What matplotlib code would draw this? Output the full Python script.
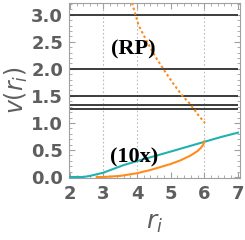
import matplotlib
matplotlib.use("Agg")
import matplotlib.pyplot as plt
from matplotlib.ticker import MultipleLocator

# data
levels = [3.0, 2.0, 1.5, 4/3, 1.25]
r_rp = [3.85, 4.05, 4.30, 4.55, 4.78, 5.05, 5.35, 5.55, 5.70, 5.85, 6.02]
v_rp = [3.22, 2.80, 2.50, 2.22, 2.00, 1.75, 1.50, 1.37, 1.25, 1.12, 1.00]
r_cy = [2.0, 2.4, 2.6, 2.8, 3.0, 3.3, 3.6, 4.2, 4.6, 5.0, 5.5, 6.0, 6.5, 7.0]
v_cy = [0.0, 0.0, 0.02, 0.05, 0.08, 0.15, 0.22, 0.33, 0.40, 0.47, 0.56, 0.65, 0.74, 0.82]
r_or = [2.8, 3.0, 3.5, 4.0, 4.4, 5.0, 5.3, 5.6, 5.8, 5.9, 5.97, 6.0]
v_or = [0.0, 0.0, 0.02, 0.07, 0.13, 0.24, 0.31, 0.40, 0.48, 0.54, 0.60, 0.66]
grid_x = [3, 4, 6]

fig = plt.figure(figsize=(2.45, 2.40), dpi=100)
ax = fig.add_axes([0.280, 0.258, 0.700, 0.730])

gray = "#5e5e5e"
for gx in grid_x:
    ax.axvline(gx, color="#bbbbbb", lw=0.8, ls=(0, (1.5, 2)), zorder=0)

ax.hlines(levels, 2, 7, colors="#3c3c3c", lw=1.4, zorder=2)
ax.plot(r_rp, v_rp, color="#ff8c1a", lw=1.5, ls=(0, (1.2, 1.2)), zorder=3)
ax.plot(r_cy, v_cy, color="#20b2b0", lw=1.5, zorder=3)
ax.plot(r_or, v_or, color="#ff8c1a", lw=1.5, zorder=3)

ax.text(3.9, 2.35, "(RP)", family="Liberation Serif", weight="bold",
        fontsize=16, ha="center", va="center", color="black")
ax.text(3.9, 0.37, "(10x)", family="Liberation Serif", weight="bold",
        fontsize=16, ha="center", va="center", color="black")

ax.set_xlim(1.965, 7.065)
ax.set_ylim(-0.02, 3.22)
ax.xaxis.set_major_locator(MultipleLocator(1))
ax.xaxis.set_minor_locator(MultipleLocator(0.2))
ax.yaxis.set_major_locator(MultipleLocator(0.5))
ax.yaxis.set_minor_locator(MultipleLocator(0.1))
ax.xaxis.set_major_formatter(matplotlib.ticker.FormatStrFormatter("%d"))
ax.yaxis.set_major_formatter(matplotlib.ticker.FormatStrFormatter("%.1f"))

for s in ax.spines.values():
    s.set_color("#a0a0a0")
    s.set_linewidth(0.8)
ax.tick_params(which="both", direction="in", top=True, right=True,
               color="#a0a0a0", labelcolor=gray)
ax.tick_params(which="major", length=4, width=0.8)
ax.tick_params(axis="x", which="major", pad=5)
ax.tick_params(axis="y", which="major", pad=4)
ax.tick_params(which="minor", length=2, width=0.6)
for lab in ax.get_xticklabels() + ax.get_yticklabels():
    lab.set_family("DejaVu Sans")
    lab.set_weight("bold")
    lab.set_fontsize(13)

ax.set_xlabel(r"$r_i$", fontsize=18, color=gray, labelpad=6)
ax.set_ylabel(r"$v(r_i)$", fontsize=17, color=gray, labelpad=1)

fig.savefig("out.png", dpi=100)
